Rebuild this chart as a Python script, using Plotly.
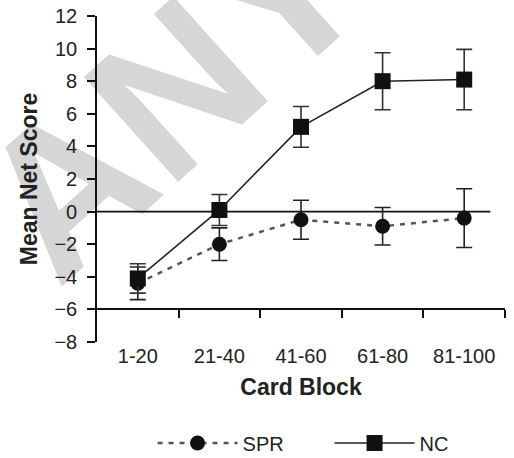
import plotly.graph_objects as go

categories = ["1-20", "21-40", "41-60", "61-80", "81-100"]
spr_mean = [-4.4, -2.0, -0.5, -0.9, -0.4]
spr_err = [1.0, 1.0, 1.2, 1.15, 1.8]
nc_mean = [-4.1, 0.1, 5.2, 8.0, 8.1]
nc_err = [0.9, 0.95, 1.25, 1.75, 1.85]
y_ticks = [-8, -6, -4, -2, 0, 2, 4, 6, 8, 10, 12]

FONT = "Arial, Liberation Sans, Helvetica, sans-serif"
xpos = list(range(len(categories)))
bounds = [i + 0.5 for i in xpos]

fig = go.Figure()
fig.add_trace(go.Scatter(
    x=xpos, y=spr_mean, name="SPR", mode="lines+markers",
    line=dict(color="#555555", width=2.5, dash="5px,6px"),
    marker=dict(symbol="circle", size=15, color="#111111"),
    error_y=dict(type="data", array=spr_err, color="#222222", thickness=1.6, width=8),
    xaxis="x2",
))
fig.add_trace(go.Scatter(
    x=xpos, y=nc_mean, name="NC", mode="lines+markers",
    line=dict(color="#222222", width=1.6),
    marker=dict(symbol="square", size=16, color="#111111"),
    error_y=dict(type="data", array=nc_err, color="#333333", thickness=1.6, width=8),
    xaxis="x2",
))

fig.update_layout(
    width=514, height=458,
    margin=dict(l=97, r=9, t=16, b=116, autoexpand=False),
    paper_bgcolor="white", plot_bgcolor="white",
    font=dict(family=FONT, size=20, color="#222222"),
    showlegend=True,
    legend=dict(orientation="h", x=0.57, xanchor="center", y=-0.31, yanchor="middle",
                font=dict(size=20), itemwidth=80, entrywidth=82, entrywidthmode="pixels"),
    xaxis=dict(range=[-0.5, 4.5], anchor="free", position=(-6 - (-8)) / 20,
               showline=True, linecolor="#111111", linewidth=1.6,
               tickmode="array", tickvals=bounds, showticklabels=False,
               ticks="outside", ticklen=8, tickwidth=1.6, tickcolor="#111111",
               showgrid=False, zeroline=False, automargin=False),
    xaxis2=dict(range=[-0.5, 4.5], overlaying="x", anchor="y", side="bottom",
                tickmode="array", tickvals=xpos, ticktext=categories,
                ticks="", showline=False, showgrid=False, zeroline=False,
                tickfont=dict(size=20), automargin=False,
                title=dict(text="<b>Card Block</b>", font=dict(size=23), standoff=12)),
    yaxis=dict(range=[-8, 12], tickmode="array", tickvals=y_ticks,
               showline=True, linecolor="#111111", linewidth=1.6,
               ticks="outside", ticklen=8, tickwidth=1.6, tickcolor="#111111",
               showgrid=False, zeroline=False, ticklabelstandoff=6, automargin=False,
               title=dict(text="<b>Mean Net Score</b>", font=dict(size=23), standoff=10)),
    shapes=[
        dict(type="line", xref="x", yref="y", x0=-0.5, x1=4.32, y0=0, y1=0,
             line=dict(color="#111111", width=1.6), layer="below"),
        dict(type="rect", xref="paper", yref="paper", x0=0.01, x1=0.29, y0=0.68, y1=0.94,
             line=dict(width=0), fillcolor="rgba(0,0,0,0)", layer="below",
             label=dict(text="<b>ANY</b>", textangle=-42, textposition="middle center",
                        font=dict(family=FONT, size=205, color="#d6d6d6"))),
    ],
)

fig.write_html("out.html")
